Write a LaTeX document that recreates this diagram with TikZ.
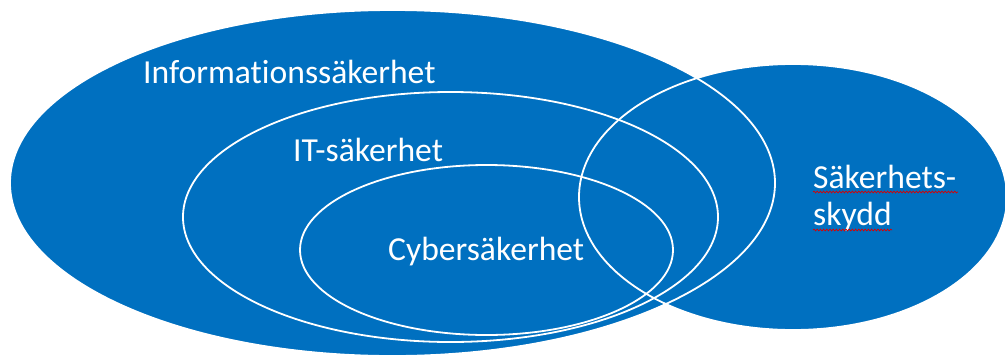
\documentclass[tikz,border=0pt]{standalone}
\usepackage{fontspec}
\setmainfont{Carlito}[Ligatures=NoCommon]
\usetikzlibrary{shapes.geometric,decorations.pathmorphing}
\definecolor{offblue}{RGB}{0,112,192}
\tikzset{
  setfill/.style={ellipse, fill=offblue, inner sep=0pt},
  setline/.style={ellipse, draw=white, line width=1.8pt, inner sep=0pt},
  lbl/.style={anchor=base west, text=white, inner sep=0pt, font=\fontsize{33.6}{40}\selectfont},
  spell/.style={draw=red!85!black, line width=0.7pt, decorate, decoration={snake, amplitude=0.9pt, segment length=3.2pt}}
}
\begin{document}
\begin{tikzpicture}[x=1pt,y=1pt]
\clip (0,0) rectangle (1005,-354);
% fills
\node[setfill, minimum width=765pt, minimum height=346pt] (infoF) at (392.5,-183) {};
\node[setfill, minimum width=428pt, minimum height=266pt] (skyddF) at (793,-197) {};
% outlines
\node[setline, minimum width=765pt, minimum height=346pt] (info) at (392.5,-183) {};
\node[setline, minimum width=428pt, minimum height=266pt] (skydd) at (793,-197) {};
\node[setline, minimum width=535pt, minimum height=250pt] (it) at (450.5,-217) {};
\node[setline, minimum width=373pt, minimum height=170pt] (cyber) at (486.5,-250) {};
% labels
\node[lbl] (tInfo) at (143,-83) {Informationssäkerhet};
\node[lbl] (tIT) at (293,-161) {IT-säkerhet};
\node[lbl] (tCyber) at (388,-260) {Cybersäkerhet};
\node[lbl] (tS1) at (813,-188) {Säkerhets-};
\node[lbl] (tS2) at (813,-225) {skydd};
% spell-check underlines
\coordinate (u1a) at (813,-192);
\coordinate (u1b) at (958,-192);
\coordinate (u2a) at (813,-230);
\coordinate (u2b) at (892,-230);
\draw[spell] (u1a) -- (u1b);
\draw[spell] (u2a) -- (u2b);
\end{tikzpicture}
\end{document}
